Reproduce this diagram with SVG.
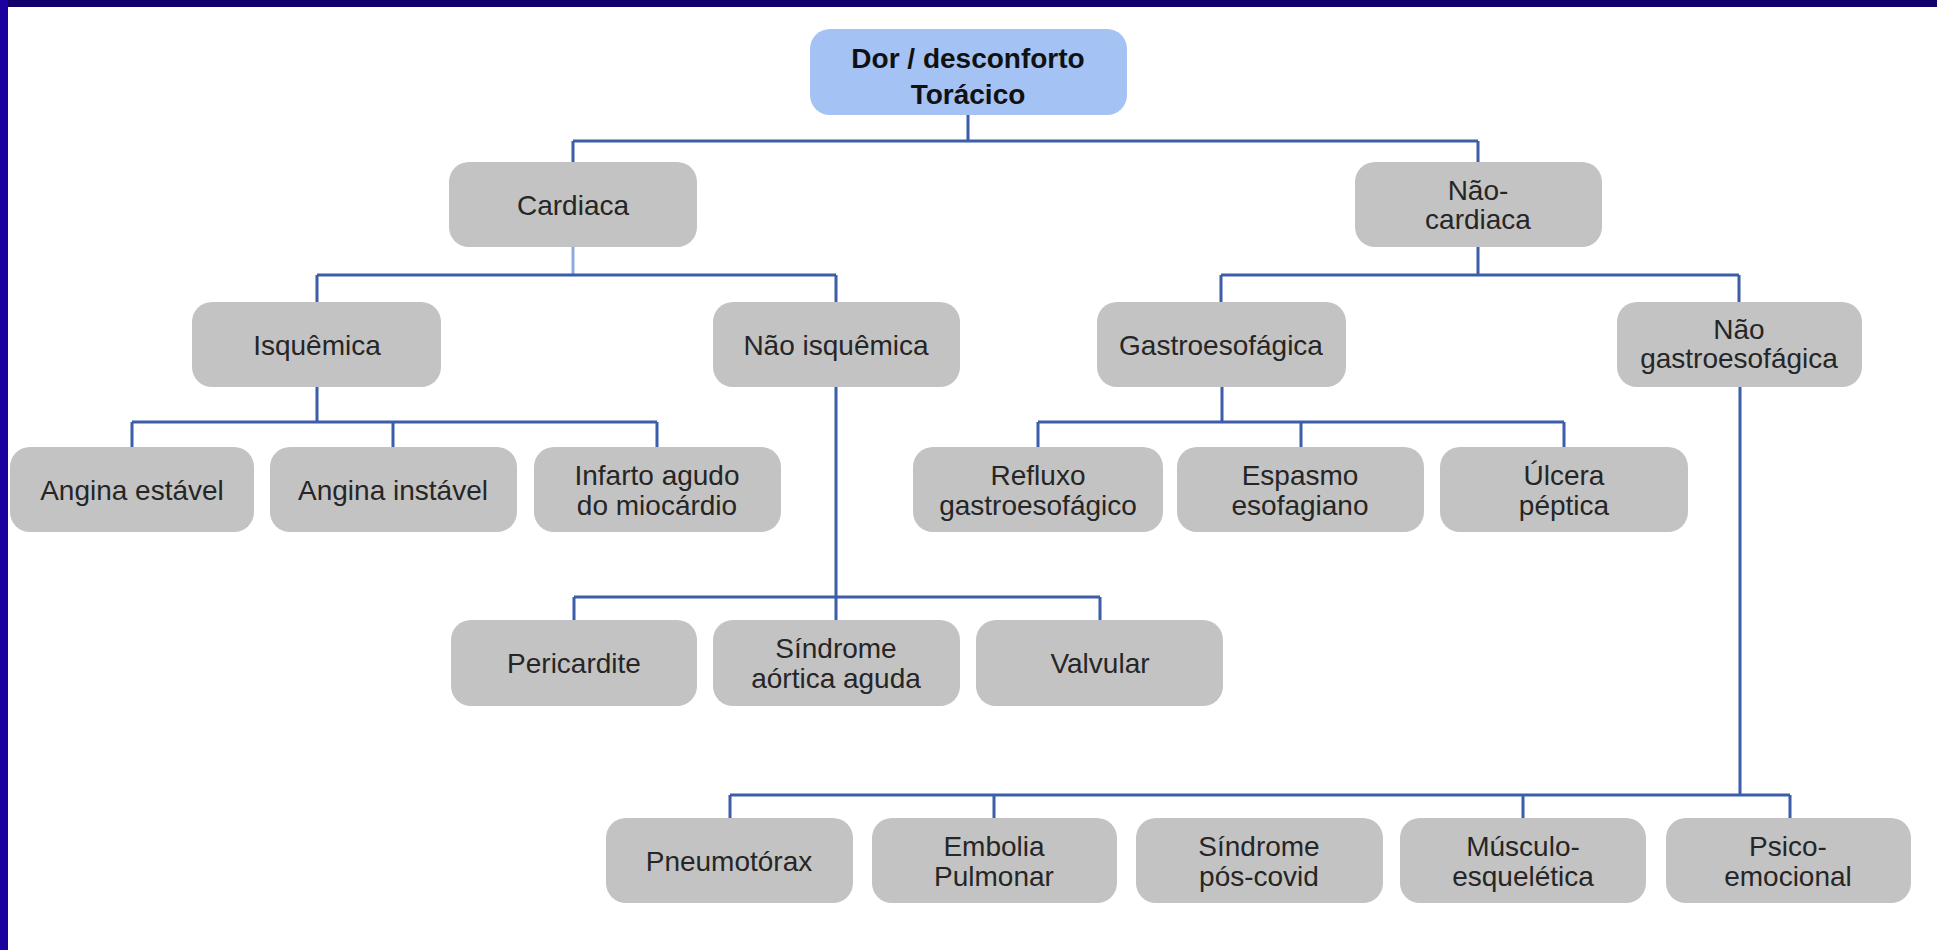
<svg xmlns="http://www.w3.org/2000/svg" width="1937" height="950" viewBox="0 0 1937 950">
<style>
.box{fill:#c3c3c3;}
.root{fill:#a4c2f4;}
text{font-family:"Liberation Sans",Arial,sans-serif;font-size:28px;fill:#262626;text-anchor:middle;}
.b{font-weight:bold;fill:#111111;}
.con{fill:none;stroke:#3b5daa;stroke-width:3;}
.light{stroke:#8eaade;}
</style>
<rect x="0" y="0" width="1937" height="950" fill="#ffffff"/>
<rect x="0" y="0" width="1937" height="7" fill="#14006b"/>
<rect x="0" y="0" width="8" height="950" fill="#1c00a0"/>
<g id="connectors" class="con">
<path d="M968,115 V141 M573,141 H1478 M573,141 V162 M1478,141 V162"/>
<path class="light" d="M573,247 V274"/>
<path d="M317,275 H836 M317,275 V302 M836,275 V302"/>
<path d="M1478,247 V275 M1221,275 H1739 M1221,275 V302 M1739,275 V302"/>
<path d="M317,387 V422 M132,422 H657 M132,422 V447 M393,422 V447 M657,422 V447"/>
<path d="M1222,387 V422 M1038,422 H1564 M1038,422 V447 M1301,422 V447 M1564,422 V447"/>
<path d="M836,387 V620 M574,597 H1100 M574,597 V620 M1100,597 V620"/>
<path d="M1740,387 V795 M730,795 H1790 M730,795 V818 M994,795 V818 M1523,795 V818 M1790,795 V818"/>
</g>
<g id="root"><rect class="root" x="810" y="29" width="317" height="86" rx="20"/><text class="b" x="968" y="68">Dor / desconforto</text><text class="b" x="968" y="104">Torácico</text></g>
<g id="cardiaca"><rect class="box" x="449" y="162" width="248" height="85" rx="20"/><text x="573" y="215">Cardiaca</text></g>
<g id="nao-cardiaca"><rect class="box" x="1355" y="162" width="247" height="85" rx="20"/><text x="1478" y="200">Não-</text><text x="1478" y="229">cardiaca</text></g>
<g id="isquemica"><rect class="box" x="192" y="302" width="249" height="85" rx="20"/><text x="317" y="355">Isquêmica</text></g>
<g id="nao-isquemica"><rect class="box" x="713" y="302" width="247" height="85" rx="20"/><text x="836" y="355">Não isquêmica</text></g>
<g id="gastroesofagica"><rect class="box" x="1097" y="302" width="249" height="85" rx="20"/><text x="1221" y="355">Gastroesofágica</text></g>
<g id="nao-gastroesofagica"><rect class="box" x="1617" y="302" width="245" height="85" rx="20"/><text x="1739" y="339">Não</text><text x="1739" y="368">gastroesofágica</text></g>
<g id="angina-estavel"><rect class="box" x="10" y="447" width="244" height="85" rx="20"/><text x="132" y="500">Angina estável</text></g>
<g id="angina-instavel"><rect class="box" x="270" y="447" width="247" height="85" rx="20"/><text x="393" y="500">Angina instável</text></g>
<g id="infarto"><rect class="box" x="534" y="447" width="247" height="85" rx="20"/><text x="657" y="485">Infarto agudo</text><text x="657" y="515">do miocárdio</text></g>
<g id="refluxo"><rect class="box" x="913" y="447" width="250" height="85" rx="20"/><text x="1038" y="485">Refluxo</text><text x="1038" y="515">gastroesofágico</text></g>
<g id="espasmo"><rect class="box" x="1177" y="447" width="247" height="85" rx="20"/><text x="1300" y="485">Espasmo</text><text x="1300" y="515">esofagiano</text></g>
<g id="ulcera"><rect class="box" x="1440" y="447" width="248" height="85" rx="20"/><text x="1564" y="485">Úlcera</text><text x="1564" y="515">péptica</text></g>
<g id="pericardite"><rect class="box" x="451" y="620" width="246" height="86" rx="20"/><text x="574" y="673">Pericardite</text></g>
<g id="sindrome-aortica"><rect class="box" x="713" y="620" width="247" height="86" rx="20"/><text x="836" y="658">Síndrome</text><text x="836" y="688">aórtica aguda</text></g>
<g id="valvular"><rect class="box" x="976" y="620" width="247" height="86" rx="20"/><text x="1100" y="673">Valvular</text></g>
<g id="pneumotorax"><rect class="box" x="606" y="818" width="247" height="85" rx="20"/><text x="729" y="871">Pneumotórax</text></g>
<g id="embolia"><rect class="box" x="872" y="818" width="245" height="85" rx="20"/><text x="994" y="856">Embolia</text><text x="994" y="886">Pulmonar</text></g>
<g id="sindrome-pos-covid"><rect class="box" x="1136" y="818" width="247" height="85" rx="20"/><text x="1259" y="856">Síndrome</text><text x="1259" y="886">pós-covid</text></g>
<g id="musculo"><rect class="box" x="1400" y="818" width="246" height="85" rx="20"/><text x="1523" y="856">Músculo-</text><text x="1523" y="886">esquelética</text></g>
<g id="psico"><rect class="box" x="1666" y="818" width="245" height="85" rx="20"/><text x="1788" y="856">Psico-</text><text x="1788" y="886">emocional</text></g>
</svg>
